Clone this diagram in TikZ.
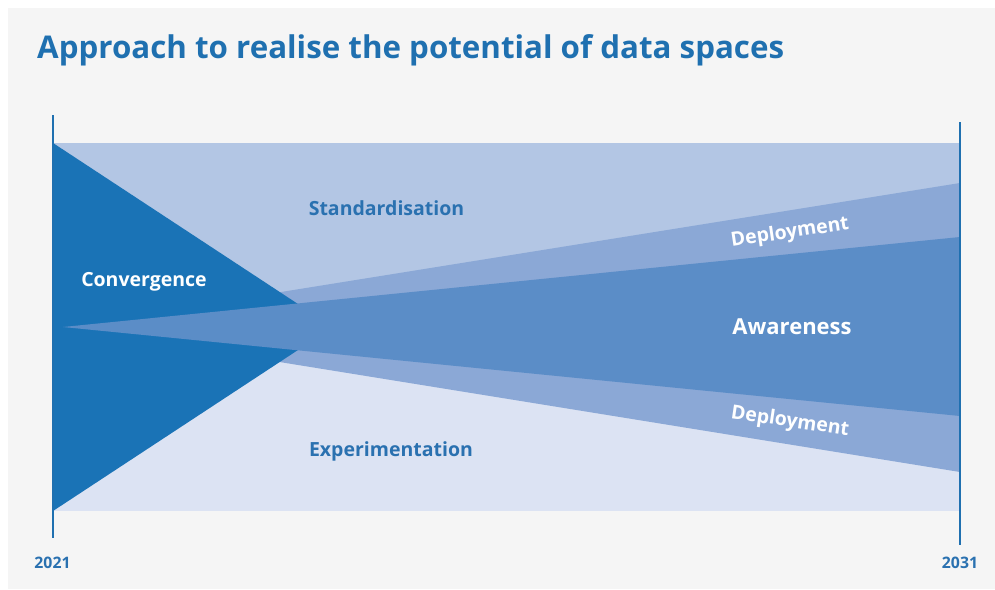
\documentclass[tikz,border=0pt]{standalone}
\usepackage{fontspec}
\setmainfont{Open Sans}
\definecolor{bggray}{HTML}{F5F5F5}
\definecolor{darkblue}{HTML}{1A73B6}
\definecolor{stdblue}{HTML}{B3C6E4}
\definecolor{expblue}{HTML}{DCE3F3}
\definecolor{depblue}{HTML}{8BA8D6}
\definecolor{awblue}{HTML}{5B8DC7}
\definecolor{textblue}{HTML}{2A71B0}
\definecolor{titleblue}{HTML}{1F70B0}
\tikzset{
  lbl/.style={font=\bfseries\fontsize{19.5}{22}\selectfont, inner sep=0pt, anchor=base},
  bluelbl/.style={lbl, text=textblue},
  whitelbl/.style={lbl, text=white},
  yearlbl/.style={font=\bfseries\fontsize{15.8}{18}\selectfont, text=textblue, inner sep=0pt, anchor=base},
  axis/.style={draw=titleblue, line width=2.5pt}
}
\begin{document}
\begin{tikzpicture}[x=1pt,y=-1pt]
\useasboundingbox (0,0) rectangle (995,589);
\fill[white] (0,0) rectangle (995,589);
\fill[bggray] (8,8) rectangle (995,589);
% key points
\coordinate (tl) at (53,143);
\coordinate (bl) at (53,511);
\coordinate (tr) at (960,143);
\coordinate (br) at (960,511);
\coordinate (ml) at (53,327);
\coordinate (mr) at (960,327);
\coordinate (apex) at (63,327);
\coordinate (capex) at (333,327);
% bands
\fill[stdblue] (tl) rectangle (mr);
\fill[expblue] (ml) rectangle (br);
% deployment wedge
\fill[depblue] (apex) -- (960,183) -- (960,472) -- cycle;
% convergence triangle
\fill[darkblue] (tl) -- (capex) -- (bl) -- cycle;
% awareness wedge
\fill[awblue] (apex) -- (960,237) -- (960,416) -- cycle;
% axes
\coordinate (a1t) at (53,115);
\coordinate (a1b) at (53,538);
\coordinate (a2t) at (960,122);
\coordinate (a2b) at (960,545);
\draw[axis] (a1t) -- (a1b);
\draw[axis] (a2t) -- (a2b);
% title
\node[font=\bfseries\fontsize{31.3}{35}\selectfont, text=titleblue, inner sep=0pt, anchor=base west] (title) at (37,58) {Approach to realise the potential of data spaces};
% labels
\node[bluelbl] (std) at (386.5,215) {Standardisation};
\node[bluelbl] (exp) at (391,456) {Experimentation};
\node[whitelbl] (conv) at (144,286) {Convergence};
\node[whitelbl, font=\bfseries\fontsize{22}{24}\selectfont] (aw) at (792,334) {Awareness};
\node[whitelbl, anchor=center, rotate=8.5] (dep1) at (790,233) {Deployment};
\node[whitelbl, anchor=center, rotate=-8.5] (dep2) at (790,422) {Deployment};
\node[yearlbl] (y1) at (52.5,568) {2021};
\node[yearlbl] (y2) at (960,568) {2031};
\end{tikzpicture}
\end{document}
